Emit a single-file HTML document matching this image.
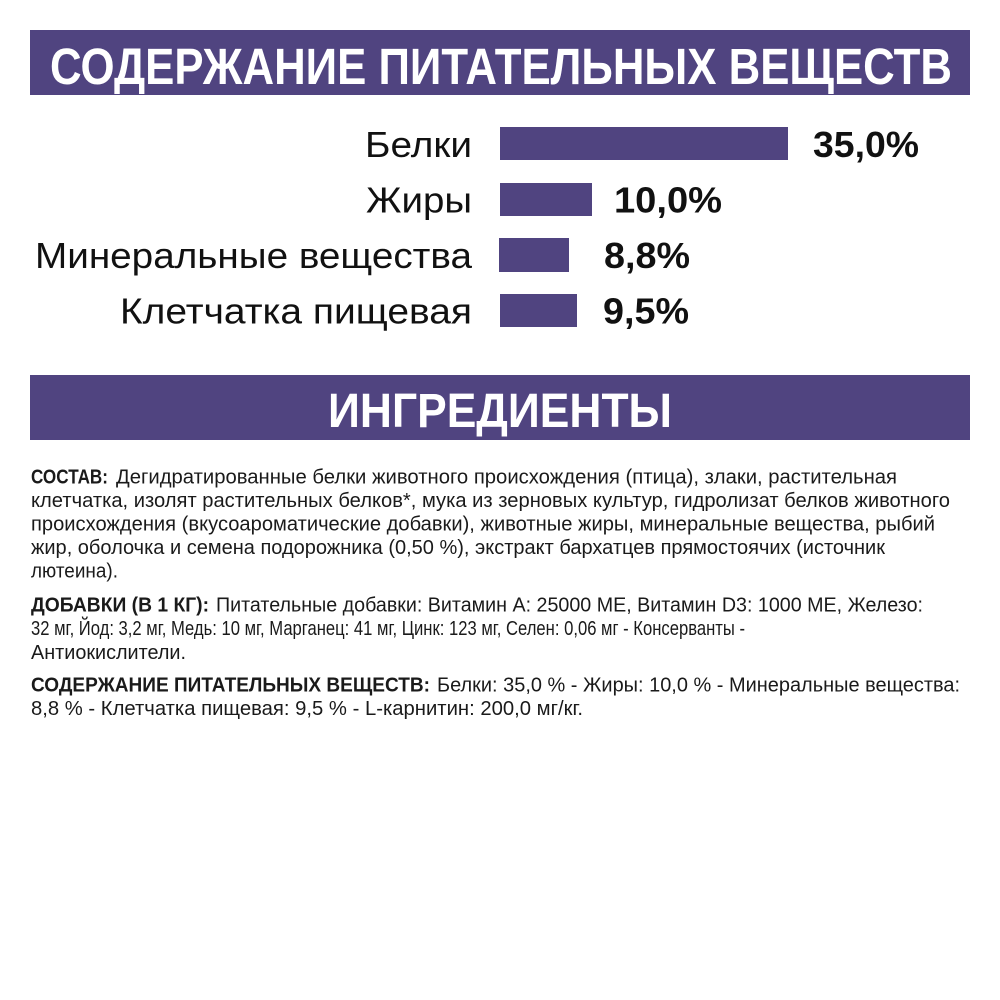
<!DOCTYPE html>
<html>
<head>
<meta charset="utf-8">
<style>
html,body{margin:0;padding:0;background:#fff;}
svg{display:block;}
</style>
</head>
<body>
<svg width="1000" height="1000" viewBox="0 0 1000 1000" xmlns="http://www.w3.org/2000/svg">
<rect x="0" y="0" width="1000" height="1000" fill="#ffffff"/>
<!-- Header 1 -->
<rect x="30" y="30" width="940" height="65" fill="#504480"/>
<text x="50" y="84" font-family="Liberation Sans, sans-serif" font-weight="bold" font-size="51" fill="#ffffff" textLength="902" lengthAdjust="spacingAndGlyphs">СОДЕРЖАНИЕ ПИТАТЕЛЬНЫХ ВЕЩЕСТВ</text>

<!-- Bars -->
<g font-family="Liberation Sans, sans-serif" font-size="36" fill="#111">
<text x="365" y="157" textLength="107" lengthAdjust="spacingAndGlyphs">Белки</text>
<text x="366" y="212.5" textLength="106" lengthAdjust="spacingAndGlyphs">Жиры</text>
<text x="35" y="268" textLength="437" lengthAdjust="spacingAndGlyphs">Минеральные вещества</text>
<text x="120" y="323.5" textLength="352" lengthAdjust="spacingAndGlyphs">Клетчатка пищевая</text>
</g>
<rect x="500" y="127" width="288" height="33" fill="#504480"/>
<rect x="500" y="183" width="92" height="33" fill="#504480"/>
<rect x="499" y="238" width="70" height="34" fill="#504480"/>
<rect x="500" y="294" width="77" height="33" fill="#504480"/>
<g font-family="Liberation Sans, sans-serif" font-size="36" font-weight="bold" fill="#111">
<text x="813" y="157" textLength="106" lengthAdjust="spacingAndGlyphs">35,0%</text>
<text x="614" y="212.5" textLength="108" lengthAdjust="spacingAndGlyphs">10,0%</text>
<text x="604" y="268" textLength="86" lengthAdjust="spacingAndGlyphs">8,8%</text>
<text x="603" y="323.5" textLength="86" lengthAdjust="spacingAndGlyphs">9,5%</text>
</g>

<!-- Header 2 -->
<rect x="30" y="375" width="940" height="65" fill="#504480"/>
<text x="328" y="427" font-family="Liberation Sans, sans-serif" font-weight="bold" font-size="48" fill="#ffffff" textLength="344" lengthAdjust="spacingAndGlyphs">ИНГРЕДИЕНТЫ</text>

<!-- Body text -->
<g font-family="Liberation Sans, sans-serif" font-size="20.5" fill="#1a1a1a">
<text x="31" y="483.5" font-weight="bold" textLength="77" lengthAdjust="spacingAndGlyphs">СОСТАВ:</text>
<text x="116" y="483.5" textLength="781" lengthAdjust="spacingAndGlyphs">Дегидратированные белки животного происхождения (птица), злаки, растительная</text>
<text x="31" y="507" textLength="919" lengthAdjust="spacingAndGlyphs">клетчатка, изолят растительных белков*, мука из зерновых культур, гидролизат белков животного</text>
<text x="31" y="530.5" textLength="904" lengthAdjust="spacingAndGlyphs">происхождения (вкусоароматические добавки), животные жиры, минеральные вещества, рыбий</text>
<text x="31" y="554" textLength="854" lengthAdjust="spacingAndGlyphs">жир, оболочка и семена подорожника (0,50 %), экстракт бархатцев прямостоячих (источник</text>
<text x="31" y="577.5" textLength="87" lengthAdjust="spacingAndGlyphs">лютеина).</text>

<text x="31" y="611.5" font-weight="bold" textLength="178" lengthAdjust="spacingAndGlyphs">ДОБАВКИ (В 1 КГ):</text>
<text x="216" y="611.5" textLength="707" lengthAdjust="spacingAndGlyphs">Питательные добавки: Витамин А: 25000 МЕ, Витамин D3: 1000 МЕ, Железо:</text>
<text x="31" y="635" textLength="714" lengthAdjust="spacingAndGlyphs">32 мг, Йод: 3,2 мг, Медь: 10 мг, Марганец: 41 мг, Цинк: 123 мг, Селен: 0,06 мг - Консерванты -</text>
<text x="31" y="659" textLength="155" lengthAdjust="spacingAndGlyphs">Антиокислители.</text>

<text x="31" y="691.5" font-weight="bold" textLength="399" lengthAdjust="spacingAndGlyphs">СОДЕРЖАНИЕ ПИТАТЕЛЬНЫХ ВЕЩЕСТВ:</text>
<text x="437" y="691.5" textLength="523" lengthAdjust="spacingAndGlyphs">Белки: 35,0 % - Жиры: 10,0 % - Минеральные вещества:</text>
<text x="31" y="715" textLength="552" lengthAdjust="spacingAndGlyphs">8,8 % - Клетчатка пищевая: 9,5 % - L-карнитин: 200,0 мг/кг.</text>
</g>
</svg>
</body>
</html>
